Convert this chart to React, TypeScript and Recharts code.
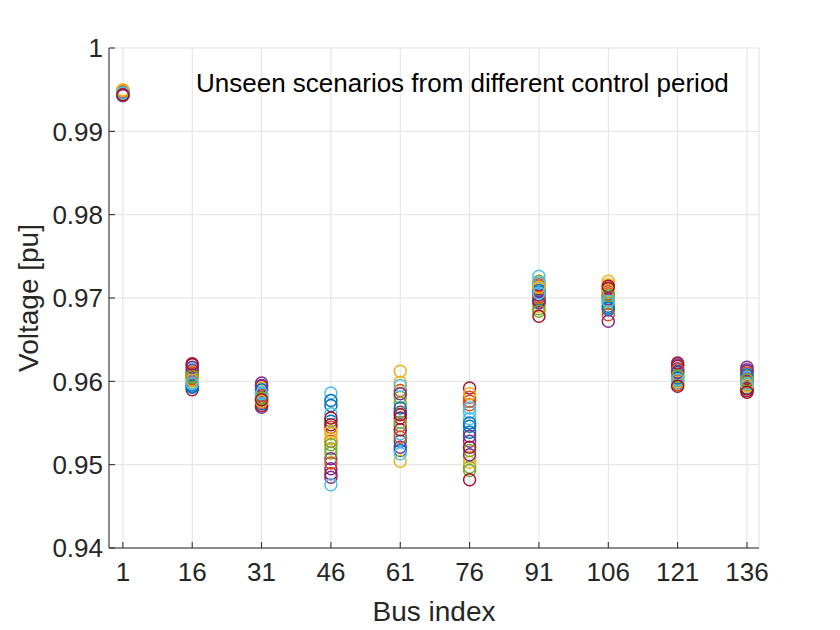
import React from 'react';
import { ScatterChart, Scatter, XAxis, YAxis, CartesianGrid } from 'recharts';

const buses = [1, 16, 31, 46, 61, 76, 91, 106, 121, 136];
const yTicks = [0.94, 0.95, 0.96, 0.97, 0.98, 0.99, 1];
const colors = ['#0072BD', '#D95319', '#EDB120', '#7E2F8E', '#77AC30', '#4DBEEE', '#A2142F'];
const annotation = 'Unseen scenarios from different control period';

// voltage of each bus, one value per scenario (21 scenarios)
const bus1 = [0.9945, 0.9947, 0.9949, 0.9944, 0.9946, 0.9948, 0.9945, 0.9946, 0.9947, 0.995, 0.9943, 0.9945, 0.9947, 0.9944, 0.9946, 0.9948, 0.9949, 0.9943, 0.9945, 0.9946, 0.9944];
const bus16 = [0.9596, 0.9604, 0.9611, 0.9608, 0.9601, 0.9615, 0.959, 0.9593, 0.9607, 0.9599, 0.9613, 0.9605, 0.9598, 0.962, 0.9594, 0.961, 0.9602, 0.9617, 0.9606, 0.9597, 0.9621];
const bus31 = [0.9573, 0.9581, 0.9589, 0.9569, 0.9586, 0.9577, 0.9594, 0.9584, 0.9575, 0.9592, 0.9598, 0.9579, 0.9587, 0.9571, 0.959, 0.9583, 0.9576, 0.9595, 0.958, 0.9585, 0.9578];
const bus46 = [0.9552, 0.9528, 0.9537, 0.9495, 0.9519, 0.9586, 0.9489, 0.9571, 0.9545, 0.9531, 0.9507, 0.9514, 0.9561, 0.9548, 0.9577, 0.9502, 0.954, 0.9485, 0.9524, 0.9476, 0.9556];
const bus61 = [0.9528, 0.9589, 0.9612, 0.9563, 0.9581, 0.9537, 0.9556, 0.9517, 0.9547, 0.9599, 0.9521, 0.9574, 0.9595, 0.9542, 0.9568, 0.9533, 0.9504, 0.9585, 0.9551, 0.9513, 0.956];
const bus76 = [0.9546, 0.9572, 0.9509, 0.9528, 0.9497, 0.9555, 0.9592, 0.9539, 0.9581, 0.9503, 0.9534, 0.9517, 0.9563, 0.9521, 0.955, 0.9576, 0.9585, 0.9512, 0.9493, 0.9568, 0.9482];
const bus91 = [0.9699, 0.9716, 0.9711, 0.9694, 0.972, 0.9726, 0.9702, 0.9707, 0.9714, 0.969, 0.9704, 0.9687, 0.9718, 0.9697, 0.9709, 0.9701, 0.9713, 0.9695, 0.9684, 0.9706, 0.9678];
const bus106 = [0.969, 0.9712, 0.972, 0.9702, 0.9697, 0.9693, 0.9708, 0.9686, 0.9705, 0.9716, 0.9699, 0.9694, 0.9701, 0.9711, 0.9688, 0.968, 0.9709, 0.9672, 0.9703, 0.9696, 0.9714];
const bus121 = [0.9598, 0.961, 0.9603, 0.9615, 0.9607, 0.96, 0.9618, 0.9612, 0.9596, 0.9605, 0.962, 0.9601, 0.9609, 0.9622, 0.9604, 0.9614, 0.9599, 0.9611, 0.9606, 0.9602, 0.9594];
const bus136 = [0.9592, 0.9606, 0.9599, 0.9612, 0.9596, 0.9603, 0.9589, 0.9601, 0.961, 0.9594, 0.9617, 0.9598, 0.9605, 0.9591, 0.9608, 0.96, 0.9595, 0.9614, 0.9602, 0.9597, 0.9587];

const busValues = [bus1, bus16, bus31, bus46, bus61, bus76, bus91, bus106, bus121, bus136];
const scenarioCount = bus1.length;

const scenarios = Array.from({ length: scenarioCount }, (_, k) =>
  buses.map((b, i) => ({ x: b, y: busValues[i][k] }))
);

const FONT = '"Liberation Sans", Arial, Helvetica, sans-serif';
const AX = '#262626';

const makeShape = (color: string) => (props: any) => (
  <circle cx={props.cx} cy={props.cy} r={6} fill="none" stroke={color} strokeWidth={1.5} />
);

export default function App() {
  return (
    <div style={{ position: 'relative', width: 820, height: 622, fontFamily: FONT }}>
      <ScatterChart width={820} height={622} margin={{ top: 40, right: 69, bottom: 0, left: 0 }}>
        <CartesianGrid stroke="#e2e2e2" strokeWidth={1} />
        <XAxis
          type="number"
          dataKey="x"
          domain={[-2, 138.6]}
          ticks={buses}
          allowDataOverflow
          height={82}
          stroke={AX}
          tickSize={-6}
          tickMargin={21}
          tick={{ fill: AX, fontSize: 26, fontFamily: FONT }}
          label={{
            content: (p: any) => (
              <text x={p.viewBox.x + p.viewBox.width / 2} y={p.viewBox.y + 73} textAnchor="middle" fill={AX} fontSize={28} fontFamily={FONT}>
                Bus index
              </text>
            ),
          }}
        />
        <XAxis
          xAxisId="top"
          orientation="top"
          type="number"
          dataKey="x"
          domain={[-2, 138.6]}
          ticks={buses}
          allowDataOverflow
          height={0}
          stroke={AX}
          tickSize={-6}
          tick={false}
        />
        <YAxis
          type="number"
          dataKey="y"
          domain={[0.94, 1]}
          ticks={yTicks}
          allowDataOverflow
          width={101}
          stroke={AX}
          tickSize={-6}
          tickMargin={12}
          tickFormatter={(v: number) => (v === 1 ? '1' : v.toFixed(2))}
          tick={{ fill: AX, fontSize: 26, fontFamily: FONT }}
          label={{
            content: (p: any) => {
              const cx = 20;
              const cy = p.viewBox.y + p.viewBox.height / 2;
              return (
                <text x={cx} y={cy} transform={`rotate(-90 ${cx} ${cy})`} textAnchor="middle" dominantBaseline="central" fill={AX} fontSize={28} fontFamily={FONT}>
                  Voltage [pu]
                </text>
              );
            },
          }}
        />
        <YAxis
          yAxisId="right"
          orientation="right"
          type="number"
          domain={[0.94, 1]}
          ticks={yTicks}
          allowDataOverflow
          width={0}
          stroke={AX}
          tickSize={-6}
          tick={false}
        />
        {scenarios.map((data, k) => (
          <Scatter
            key={k}
            data={data}
            isAnimationActive={false}
            shape={makeShape(colors[k % colors.length])}
          />
        ))}
      </ScatterChart>
      <div
        style={{
          position: 'absolute',
          left: 188,
          top: 60,
          fontSize: 26,
          color: '#000',
          whiteSpace: 'nowrap',
          fontFamily: FONT,
          lineHeight: '30px',
        }}
      >
        {annotation}
      </div>
    </div>
  );
}
